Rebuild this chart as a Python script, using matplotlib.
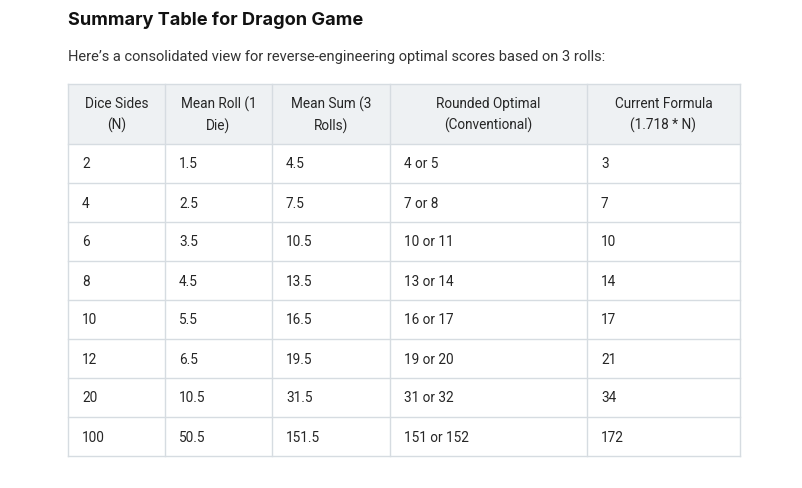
import matplotlib
matplotlib.use("Agg")
import matplotlib.pyplot as plt
from matplotlib.patches import Rectangle

plt.rcParams["font.family"] = ["Roboto", "DejaVu Sans"]

TITLE = "Summary Table for Dragon Game"
SUBTITLE = "Here\u2019s a consolidated view for reverse-engineering optimal scores based on 3 rolls:"

headers = ["Dice Sides\n(N)", "Mean Roll (1\nDie)", "Mean Sum (3\nRolls)",
           "Rounded Optimal\n(Conventional)", "Current Formula\n(1.718 * N)"]
dice_sides = ["2", "4", "6", "8", "10", "12", "20", "100"]
mean_roll = ["1.5", "2.5", "3.5", "4.5", "5.5", "6.5", "10.5", "50.5"]
mean_sum = ["4.5", "7.5", "10.5", "13.5", "16.5", "19.5", "31.5", "151.5"]
rounded_opt = ["4 or 5", "7 or 8", "10 or 11", "13 or 14", "16 or 17",
               "19 or 20", "31 or 32", "151 or 152"]
current_formula = ["3", "7", "10", "14", "17", "21", "34", "172"]

columns = [dice_sides, mean_roll, mean_sum, rounded_opt, current_formula]

# layout in pixels
W, H = 803, 489
col_edges = [68, 165, 272, 390, 587, 740]
top, head_bottom, row_h = 85, 145, 39
border = "#d6dce1"
head_bg = "#eef1f3"
text_col = "#262626"

fig = plt.figure(figsize=(W / 100, H / 100), dpi=100)
ax = fig.add_axes([0, 0, 1, 1])
ax.set_xlim(0, W)
ax.set_ylim(H, 0)
ax.axis("off")

ax.text(68, 20, TITLE, fontsize=13.1, fontweight="bold", family=["Inter", "DejaVu Sans"],
        color="#111111", ha="left", va="center")
ax.text(68, 57, SUBTITLE, fontsize=10.5, color="#333333", ha="left", va="center")

n_rows = len(dice_sides)
bottom = head_bottom + n_rows * row_h

ax.add_patch(Rectangle((col_edges[0], top), col_edges[-1] - col_edges[0], head_bottom - top,
                       facecolor=head_bg, edgecolor="none"))

# grid lines
for y in [top, head_bottom] + [head_bottom + (i + 1) * row_h for i in range(n_rows)]:
    ax.plot([col_edges[0], col_edges[-1]], [y, y], color=border, lw=1.0)
for x in col_edges:
    ax.plot([x, x], [top, bottom], color=border, lw=1.0)

for j, h in enumerate(headers):
    cx = (col_edges[j] + col_edges[j + 1]) / 2
    ax.text(cx, (top + head_bottom) / 2, h, fontsize=9.8, color=text_col,
            ha="center", va="center", linespacing=1.55)

for j, col in enumerate(columns):
    for i, val in enumerate(col):
        cy = head_bottom + (i + 0.5) * row_h
        ax.text(col_edges[j] + 14, cy, val, fontsize=9.8, color=text_col,
                ha="left", va="center")

fig.savefig("out.png", dpi=100)
